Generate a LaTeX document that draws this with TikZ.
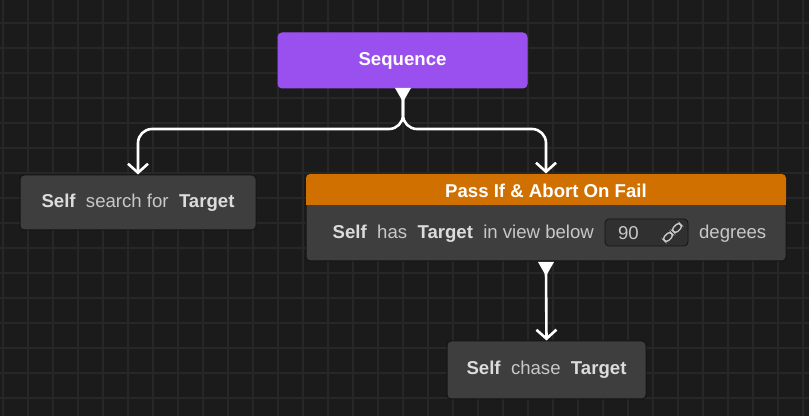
\documentclass[tikz,border=0pt]{standalone}
\usepackage{fontspec}
\setmainfont{Liberation Sans}
\usetikzlibrary{positioning,arrows.meta}
\definecolor{bgdark}{HTML}{1B1B1B}
\definecolor{gridline}{HTML}{272727}
\definecolor{seqpurple}{HTML}{9A50EE}
\definecolor{passorange}{HTML}{D07000}
\definecolor{nodegray}{HTML}{3E3E3E}
\definecolor{nodeedge}{HTML}{141414}
\definecolor{fieldgray}{HTML}{303030}
\definecolor{txtlight}{HTML}{C8C8C8}
\tikzset{
	task/.style={draw=nodeedge, fill=nodegray, rounded corners=2pt, line width=0.5pt, text=txtlight, font=\fontsize{9.3}{11}\selectfont},
	flow/.style={draw=white, line width=1.3pt, rounded corners=7pt, -{Straight Barb[length=4.5pt,width=10pt]}},
	port/.style={fill=white, draw=none},
	linkpart/.style={draw=txtlight, line width=0.7pt, rounded corners=1.6pt}
}
\newcommand{\kw}[1]{\textbf{\color[HTML]{DCDCDC}#1}}
\begin{document}
\begin{tikzpicture}[x=0.5pt, y=-0.5pt]
	\fill[bgdark] (0,0) rectangle (809,416);
	\useasboundingbox (0,0) rectangle (809,416);
	\foreach \g in {3,28,...,809} \draw[gridline, line width=0.75pt] (\g,0) -- (\g,416);
	\foreach \g in {23,48,...,416} \draw[gridline, line width=0.75pt] (0,\g) -- (809,\g);

	% sequence node
	\node[task, fill=seqpurple, draw=seqpurple, text=white, minimum width=124.5pt, minimum height=27.5pt] (seq) at (402.5,60.5) {\textbf{Sequence}};

	% left task
	\node[task, minimum width=118pt, minimum height=27.5pt] (search) at (138,202.5) {\kw{Self}\ \ search for\ \ \kw{Target}};

	% pass-if node
	\node[task, minimum width=240pt, minimum height=43.5pt] (pass) at (546,217.5) {};
	\fill[passorange, rounded corners=2pt] (306,174) rectangle (786,205);
	\fill[passorange] (306,190) rectangle (786,205);
	\node[font=\fontsize{9.3}{11}\selectfont\bfseries, text=white] (pass-head) at (546,190.5) {Pass If \& Abort On Fail};
	\node[draw=nodeedge, fill=fieldgray, rounded corners=2pt, minimum width=41.5pt, minimum height=13.5pt] (angle) at (646.5,232.5) {};
	\node[font=\fontsize{9.3}{11}\selectfont, text=txtlight, anchor=west] (angle-val) at (611,233.5) {90};
	\draw[linkpart, rotate around={45:(668,237)}] (663,234) rectangle (673,240);
	\draw[linkpart, rotate around={45:(677,228)}] (672,225) rectangle (682,231);
	\node[font=\fontsize{9.3}{11}\selectfont, text=txtlight, anchor=east] (cond-l) at (601,233.5) {\kw{Self}\ \ has\ \ \kw{Target}\ \ in view below};
	\node[font=\fontsize{9.3}{11}\selectfont, text=txtlight, anchor=west] (cond-r) at (692,233.5) {degrees};

	% bottom task
	\node[task, minimum width=99.5pt, minimum height=29pt] (chase) at (546.5,370) {\kw{Self}\ \ chase\ \ \kw{Target}};

	% ports
	\fill[port] (395,88) -- (411,88) -- (403,102) -- cycle;
	\fill[port] (538,262) -- (554,262) -- (546,276) -- cycle;

	% connectors
	\coordinate (split) at (403,129);
	\draw[flow] (403,96) -- (split) -| (search.north);
	\draw[flow] (403,96) -- (split) -| (pass.north);
	\draw[flow] (546,270) -- (chase.north);
\end{tikzpicture}
\end{document}
